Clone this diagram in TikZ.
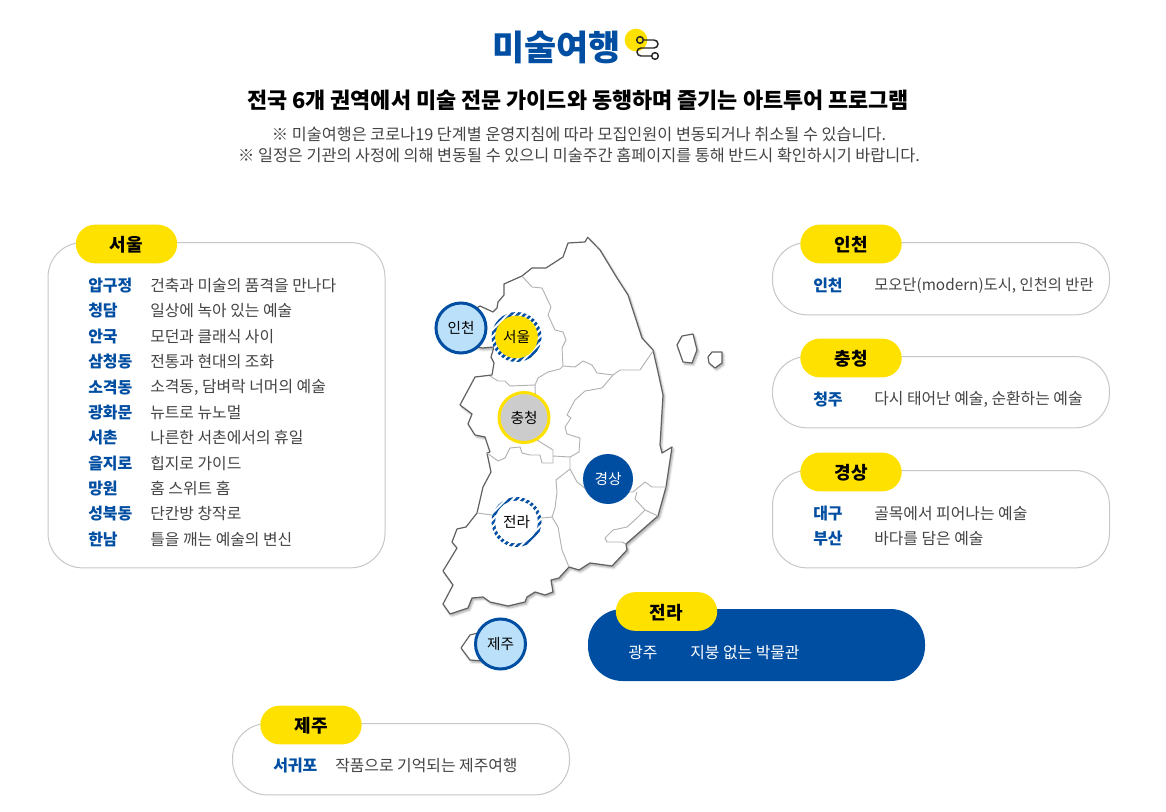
\documentclass[tikz,border=0pt]{standalone}
\usepackage{fontspec}
\setmainfont{Noto Sans CJK KR}
\usetikzlibrary{patterns.meta, shadows.blur}
\definecolor{artblue}{HTML}{004EA2}
\definecolor{artyellow}{HTML}{FFE100}
\definecolor{artgray}{HTML}{444444}
\definecolor{skyfill}{HTML}{BBE0FA}
\begin{document}
\begin{tikzpicture}
[x = 0.75pt, y = -0.75pt,
panel/.style = {draw = black!22, line width = 0.75pt, fill = white, rounded corners = 26pt, minimum width = 252.75pt},
tab/.style = {fill = artyellow, rounded corners = 14.5pt, minimum width = 76pt, minimum height = 29pt, inner sep = 0pt, text depth = 0pt, font = \fontsize{13.5pt}{16pt}\selectfont\bfseries},
place/.style = {anchor = west, inner sep = 0pt, yshift = -0.6pt, text = artblue, font = \fontsize{12pt}{14pt}\selectfont\bfseries},
note/.style = {anchor = west, inner sep = 0pt, yshift = -0.6pt, text = artgray, font = \fontsize{11.9pt}{14pt}\selectfont},
dotmark/.style = {circle, minimum size = 37.5pt, inner sep = 0pt, line width = 2.25pt, font = \fontsize{11pt}{12pt}\selectfont},
ringmark/.style = {dotmark, minimum size = 32pt, draw = none},
coast/.style = {draw = black!62, line width = 0.9pt, line join = round, fill = white, blur shadow = {shadow xshift = 1.2pt, shadow yshift = -1.5pt, shadow blur steps = 5, shadow blur radius = 1.6pt, shadow opacity = 35}},
border/.style = {draw = black!30, line width = 0.7pt, line join = round},
stripes/.style = {pattern = {Lines[angle = 45, distance = 3.6pt, line width = 1.9pt]}, pattern color = artblue},
]
\useasboundingbox (0,0) rectangle (1166,812);

\node (title) [inner sep = 0pt, text = artblue, font = \fontsize{26.2pt}{30pt}\selectfont\bfseries] at (556.5,47.5) {미술여행};
\node (dot) [circle, fill = artyellow, minimum size = 17pt, inner sep = 0pt] at (636,40) {};
\node (start) [circle, draw = black!85, line width = 1.1pt, minimum size = 5pt, inner sep = 0pt] at (640,40) {};
\node (end) [circle, draw = black!85, line width = 1.1pt, minimum size = 5pt, inner sep = 0pt] at (655,56) {};
\draw [black!85, line width = 1.1pt, rounded corners = 3pt] (start) -- (658,40) -- (658,48) -- (637,48) -- (637,56) -- (end);
\node (subtitle) [inner sep = 0pt, font = \fontsize{16.4pt}{20pt}\selectfont\bfseries] at (578,100) {전국 6개 권역에서 미술 전문 가이드와 동행하며 즐기는 아트투어 프로그램};
\node (noteone) [inner sep = 0pt, text = artgray, font = \fontsize{12.2pt}{14pt}\selectfont] at (579,134) {※ 미술여행은 코로나19 단계별 운영지침에 따라 모집인원이 변동되거나 취소될 수 있습니다.};
\node (notetwo) [inner sep = 0pt, text = artgray, font = \fontsize{12.2pt}{14pt}\selectfont] at (579,155) {※ 일정은 기관의 사정에 의해 변동될 수 있으니 미술주간 홈페이지를 통해 반드시 확인하시기 바랍니다.};

\draw [coast]
(587.7,237.3) -- (585,242) -- (568,243) -- (563,257) -- (546,268) -- (532,268) -- (522,276) -- (504,284) -- (504,295) -- (498,302) -- (497,308) -- (493,312) -- (480,306) -- (470,312) -- (470,345) -- (482,348) -- (494,347) -- (491,357) -- (494,363) -- (492,375) -- (475,377) -- (460,405) -- (472,414) -- (468,424) -- (475,435) -- (485,437) -- (490,452) -- (487,453) -- (491,472) -- (483,487) -- (477,513) -- (466,527) -- (457,529) -- (452,542) -- (457,548) -- (443,571) -- (453,585) -- (443,604) -- (450,614) -- (468,608) -- (472,598) -- (483,597) -- (490,602) -- (508,606) -- (525,602) -- (527,597) -- (535,592) -- (545,595) -- (553,592) -- (551,580) -- (559,578) -- (569,567) -- (579,570) -- (590,563) -- (612,566) -- (627,550) -- (626,544) -- (658,516) -- (666,487) -- (672,447) -- (662,453) -- (660,445) -- (663,395) -- (658,372) -- (653,350) -- (642,338) -- (628,295) -- (617,278) -- (600,250) -- cycle;
\draw [coast] (677,345) -- (682,336) -- (693,334) -- (697,350) -- (692,363) -- (683,362) -- cycle;
\draw [coast] (708,357) -- (712,352) -- (722,352) -- (722,363) -- (715,368) -- (709,363) -- cycle;
\draw [coast] (478,633) -- (470,635) -- (461,648) -- (470,660) -- (483,661) -- cycle;

\draw [border] (522,276) -- (532,287) -- (542,288) -- (551,307) -- (548,315) -- (555,330) -- (563,332) -- (566,340) -- (562,348) -- (563,366);
\draw [border] (563,366) -- (575,367) -- (583,361) -- (592,365) -- (597,373) -- (613,375) -- (620,370) -- (640,370) -- (653,351);
\draw [border] (490,376) -- (498,381) -- (505,381) -- (510,386) -- (535,385) -- (538,378) -- (548,372) -- (560,369) -- (563,366);
\draw [border] (613,375) -- (602,388) -- (585,391) -- (575,400) -- (567,415) -- (571,418) -- (565,427) -- (567,434) -- (580,438) -- (579,452) -- (570,457);
\draw [border] (487,453) -- (498,461) -- (505,458) -- (510,448) -- (520,447) -- (522,453) -- (530,455) -- (540,455) -- (542,463) -- (553,463) -- (553,456) -- (570,457) -- (570,469);
\draw [border] (535,385) -- (537,440) -- (553,450) -- (553,456);
\draw [border] (570,469) -- (556,480) -- (557,492) -- (555,508) -- (552,517) -- (558,527) -- (562,550) -- (569,567);
\draw [border] (570,469) -- (577,482) -- (590,492) -- (633,492) -- (645,482) -- (652,487) -- (666,487);
\draw [border] (637,492) -- (635,499) -- (645,510) -- (658,516);
\draw [border] (645,510) -- (637,518) -- (627,527) -- (613,530) -- (605,538) -- (607,542) -- (622,542) -- (626,544);
\draw [border] (477,513) -- (492,515) -- (542,518) -- (552,517);

\node (incheonmark) [dotmark, draw = artblue, fill = skyfill] at (461,328) {인천};
\node (seoulring) [circle, fill = white, minimum size = 37.5pt, inner sep = 0pt] at (516.5,337) {};
\fill [stripes, even odd rule] (seoulring.center) circle [radius = 18.75pt] (seoulring.center) circle [radius = 15pt];
\node (seoulmark) [ringmark, fill = artyellow] at (516.5,337) {서울};
\node (chungmark) [dotmark, draw = artyellow, fill = black!20] at (524,417.5) {충청};
\node (gyeongmark) [dotmark, fill = artblue, text = white] at (608,479) {경상};
\node (jeollaring) [circle, fill = white, minimum size = 37.5pt, inner sep = 0pt] at (516.5,522) {};
\fill [stripes, even odd rule] (jeollaring.center) circle [radius = 18.75pt] (jeollaring.center) circle [radius = 15pt];
\node (jeollamark) [ringmark, fill = white] at (516.5,522) {전라};
\node (jejumark) [dotmark, draw = artblue, fill = skyfill] at (500.5,644) {제주};

\node (seoulpanel) [panel, minimum height = 244pt] at (216.5,405.2) {};
\node (seoultab) [tab] at (126.5,244) {서울};
\node (p1) [place] at (88,285) {압구정};
\node (n1) [note] at (150,285) {건축과 미술의 품격을 만나다};
\node (p2) [place] at (88,310) {청담};
\node (n2) [note] at (150,310) {일상에 녹아 있는 예술};
\node (p3) [place] at (88,336) {안국};
\node (n3) [note] at (150,336) {모던과 클래식 사이};
\node (p4) [place] at (88,361) {삼청동};
\node (n4) [note] at (150,361) {전통과 현대의 조화};
\node (p5) [place] at (88,387) {소격동};
\node (n5) [note] at (150,387) {소격동, 담벼락 너머의 예술};
\node (p6) [place] at (88,412) {광화문};
\node (n6) [note] at (150,412) {뉴트로 뉴노멀};
\node (p7) [place] at (88,437) {서촌};
\node (n7) [note] at (150,437) {나른한 서촌에서의 휴일};
\node (p8) [place] at (88,463) {을지로};
\node (n8) [note] at (150,463) {힙지로 가이드};
\node (p9) [place] at (88,488) {망원};
\node (n9) [note] at (150,488) {홈 스위트 홈};
\node (p10) [place] at (88,513) {성북동};
\node (n10) [note] at (150,513) {단칸방 창작로};
\node (p11) [place] at (88,539) {한남};
\node (n11) [note] at (150,539) {틀을 깨는 예술의 변신};

\node (incheonpanel) [panel, minimum height = 54.25pt] at (941,278.7) {};
\node (incheontab) [tab] at (851,244) {인천};
\node (p12) [place] at (813,285) {인천};
\node (n12) [note, font = \fontsize{11.5pt}{14pt}\selectfont] at (874,285) {모오단(modern)도시, 인천의 반란};

\node (chungpanel) [panel, minimum height = 53.5pt] at (941,392.2) {};
\node (chungtab) [tab] at (851,358) {충청};
\node (p13) [place] at (813,399) {청주};
\node (n13) [note] at (874,399) {다시 태어난 예술, 순환하는 예술};

\node (gyeongpanel) [panel, minimum height = 73pt] at (941,519.2) {};
\node (gyeongtab) [tab] at (851,472) {경상};
\node (p14) [place] at (813,513) {대구};
\node (n14) [note] at (874,513) {골목에서 피어나는 예술};
\node (p15) [place] at (813,538) {부산};
\node (n15) [note] at (874,538) {바다를 담은 예술};

\node (jeollapanel) [panel, draw = none, fill = artblue, minimum height = 54pt] at (756.5,645) {};
\node (jeollatab) [tab] at (666.5,611.5) {전라};
\node (p16) [note, text = white] at (628,652) {광주};
\node (n16) [note, text = white] at (690,652) {지붕 없는 박물관};

\node (jejupanel) [panel, minimum height = 53.5pt] at (401,759.2) {};
\node (jejutab) [tab] at (311,725) {제주};
\node (p17) [place] at (273,765) {서귀포};
\node (n17) [note] at (335,765) {작품으로 기억되는 제주여행};
\end{tikzpicture}
\end{document}
